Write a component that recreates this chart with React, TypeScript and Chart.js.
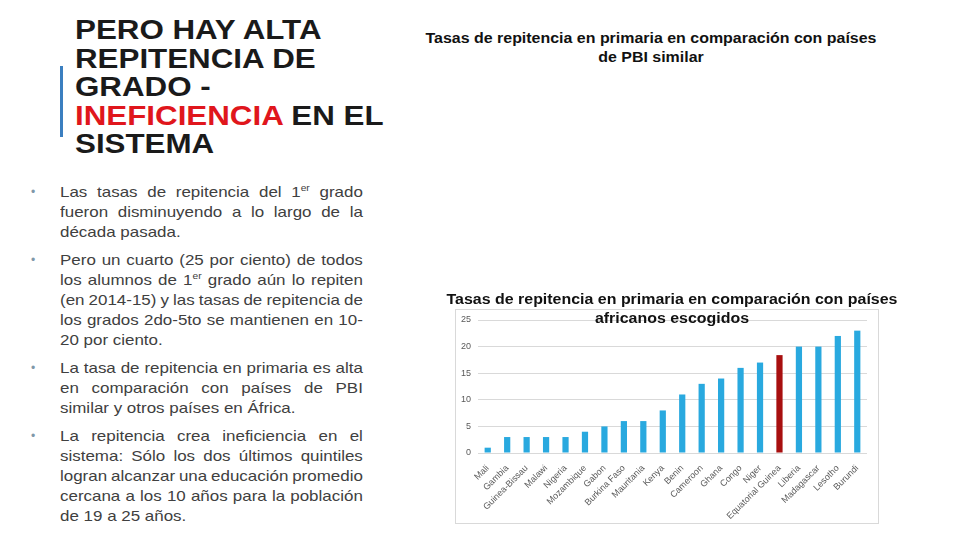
import React, { useEffect, useRef } from "react";
import { Chart, registerables } from "chart.js";

Chart.register(...registerables);

const countries: string[] = [
  "Mali", "Gambia", "Guinea-Bissau", "Malawi", "Nigeria", "Mozambique", "Gabon",
  "Burkina Faso", "Mauritania", "Kenya", "Benin", "Cameroon", "Ghana", "Congo",
  "Niger", "Equatorial Guinea", "Liberia", "Madagascar", "Lesotho", "Burundi",
];
const repetitionRates: number[] = [
  1, 3, 3, 3, 3, 4, 5, 6, 6, 8, 11, 13, 14, 16, 17, 18.4, 20, 20, 22, 23,
];
const highlightCountry = "Equatorial Guinea";
const yTicks: number[] = [0, 5, 10, 15, 20, 25];

const titleLines: string[] = ["PERO HAY ALTA", "REPITENCIA DE", "GRADO -"];
const bullets: string[][] = [
  ["Las tasas de repitencia del 1^er grado", "fueron disminuyendo a lo largo de la", "década pasada."],
  ["Pero un cuarto (25 por ciento) de todos", "los alumnos de 1^er grado aún lo repiten", "(en 2014-15) y las tasas de repitencia de", "los grados 2do-5to se mantienen en 10-", "20 por ciento."],
  ["La tasa de repitencia en primaria es alta", "en comparación con países de PBI", "similar y otros países en África."],
  ["La repitencia crea ineficiencia en el", "sistema: Sólo los dos últimos quintiles", "logran alcanzar una educación promedio", "cercana a los 10 años para la población", "de 19 a 25 años."],
];

function renderLine(s: string) {
  const parts = s.split("^er");
  if (parts.length === 1) return s;
  return (
    <>
      {parts[0]}
      <sup style={{ fontSize: "9px", verticalAlign: "6px", lineHeight: 0 }}>er</sup>
      {parts[1]}
    </>
  );
}

function BarChart() {
  const ref = useRef<HTMLCanvasElement | null>(null);
  useEffect(() => {
    if (!ref.current) return;
    const chart = new Chart(ref.current, {
      type: "bar",
      data: {
        labels: countries,
        datasets: [
          {
            data: repetitionRates,
            backgroundColor: countries.map((c) => (c === highlightCountry ? "#a80f0f" : "#29a9df")),
            barPercentage: 0.32,
            categoryPercentage: 1,
          },
        ],
      },
      options: {
        animation: false,
        responsive: false,
        maintainAspectRatio: false,
        layout: { padding: { left: 0, top: 10, right: 11, bottom: 0 } },
        plugins: { legend: { display: false }, tooltip: { enabled: false }, title: { display: false } },
        scales: {
          x: {
            grid: { display: false },
            border: { display: false },
            ticks: {
              autoSkip: false,
              maxRotation: 45,
              minRotation: 45,
              padding: 2,
              color: "#595959",
              font: { family: "'Liberation Sans', Arial, sans-serif", size: 9 },
            },
            afterFit: (scale: any) => {
              scale.height = 70;
              scale.paddingLeft = 0;
              scale.paddingRight = 0;
            },
          },
          y: {
            min: 0,
            max: 25,
            afterBuildTicks: (scale: any) => {
              scale.ticks = yTicks.map((v) => ({ value: v }));
            },
            grid: { color: "#d9d9d9", drawTicks: false, lineWidth: 1 },
            border: { display: false },
            ticks: {
              padding: 7,
              color: "#595959",
              font: { family: "'Liberation Sans', Arial, sans-serif", size: 9 },
            },
            afterFit: (scale: any) => {
              scale.width = 22;
              scale.paddingTop = 0;
              scale.paddingBottom = 0;
            },
          },
        },
      },
    });
    return () => chart.destroy();
  }, []);
  return <canvas ref={ref} width={422} height={213} style={{ display: "block", width: 422, height: 213 }} />;
}

export default function App() {
  const font = "'Liberation Sans', Arial, sans-serif";
  let y = 182;
  const bulletBlocks: React.ReactNode[] = [];
  bullets.forEach((lines, bi) => {
    const top = y;
    bulletBlocks.push(
      <div key={bi} style={{ position: "absolute", left: 0, top, width: 400 }}>
        <div style={{ position: "absolute", left: 31, top: 0, fontSize: 12, lineHeight: "20px", color: "#7f98a8" }}>•</div>
        {lines.map((ln, li) => {
          const last = li === lines.length - 1;
          return (
            <div
              key={li}
              style={{
                position: "absolute",
                left: 60,
                top: li * 20,
                width: 268,
                height: 20,
                lineHeight: "20px",
                fontSize: 15,
                color: "#404040",
                wordSpacing: last ? "0px" : "-2px",
                transform: "scaleX(1.13)",
                transformOrigin: "left top",
                textAlign: last ? "left" : "justify",
                textAlignLast: last ? "left" : "justify",
              } as React.CSSProperties}
            >
              {renderLine(ln)}
            </div>
          );
        })}
      </div>
    );
    y += lines.length * 20 + 8;
  });

  const chartTitleStyle: React.CSSProperties = {
    position: "absolute",
    width: 502,
    textAlign: "center",
    fontSize: 14.5,
    lineHeight: "19px",
    fontWeight: "bold",
    color: "#111",
    transform: "scaleX(1.1)",
    transformOrigin: "center top",
    whiteSpace: "nowrap",
  };

  return (
    <div style={{ position: "fixed", left: 0, top: 0, width: 960, height: 540, background: "#ffffff", overflow: "hidden", fontFamily: font }}>
      <div style={{ position: "absolute", left: 60, top: 66, width: 3, height: 71, background: "#3b7fc0" }} />
      <div
        style={{
          position: "absolute",
          left: 75,
          top: 16,
          fontSize: 27,
          lineHeight: "28.5px",
          fontWeight: "bold",
          color: "#1a1a1a",
          whiteSpace: "nowrap",
          transform: "scaleX(1.16)",
          transformOrigin: "left top",
        }}
      >
        {titleLines.map((t, i) => (
          <div key={i}>{t}</div>
        ))}
        <div>
          <span style={{ color: "#e0161c" }}>INEFICIENCIA</span> EN EL
        </div>
        <div>SISTEMA</div>
      </div>
      {bulletBlocks}
      <div style={{ ...chartTitleStyle, left: 400, top: 29 }}>
        Tasas de repitencia en primaria en comparación con países
        <br />
        de PBI similar
      </div>
      <div style={{ position: "absolute", left: 455, top: 309, width: 424, height: 215, boxSizing: "border-box", border: "1px solid #d9d9d9" }}>
        <BarChart />
      </div>
      <div style={{ ...chartTitleStyle, left: 421, top: 290 }}>
        Tasas de repitencia en primaria en comparación con países
        <br />
        africanos escogidos
      </div>
    </div>
  );
}
